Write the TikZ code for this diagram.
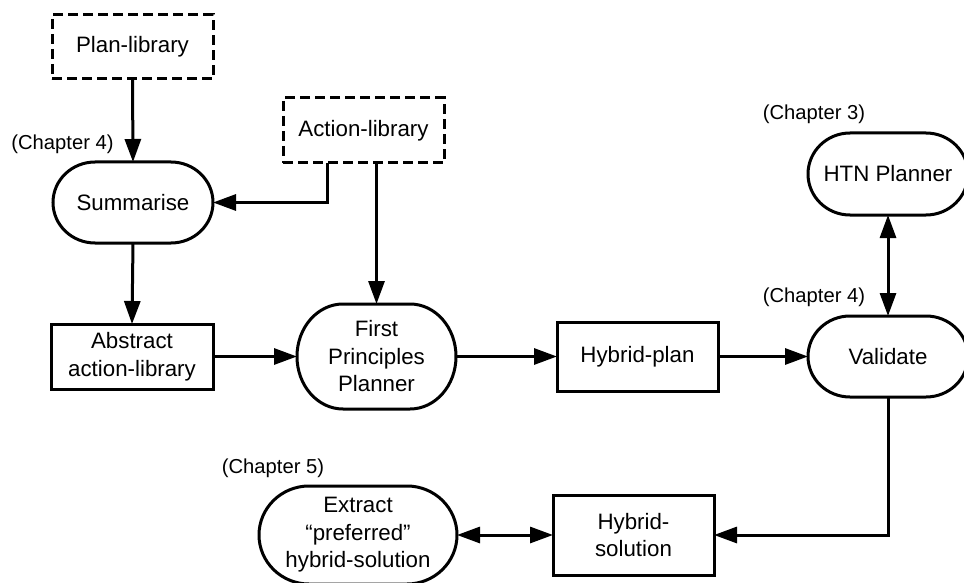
\documentclass[tikz,border=0pt]{standalone}
\usepackage{fontspec}
\setmainfont{Liberation Sans}
\usetikzlibrary{arrows.meta}

\tikzset{
  stroke/.style={line width=3pt},
  conn/.style={stroke, -{Triangle[length=23pt,width=16pt]}},
  biconn/.style={stroke, {Triangle[length=23pt,width=16pt]}-{Triangle[length=23pt,width=16pt]}},
  txt/.style={font=\fontsize{22.3}{27.5}\selectfont, align=center, inner sep=0pt, outer sep=0pt},
  box/.style={txt, rectangle, draw, stroke},
  dashbox/.style={box, dash pattern=on 10pt off 5pt},
  term/.style={txt, rectangle},
  chap/.style={font=\fontsize{20.2}{24}\selectfont, inner sep=0pt, outer sep=0pt},
}

% outline of a terminator (flat top and bottom, elliptic ends) around a node
\newcommand\termoutline[3]{%
  \draw[stroke] ([xshift=#2pt]#1.north west) -- ([xshift=-#2pt]#1.north east)
    arc[start angle=90, end angle=-90, x radius=#2pt, y radius=#3pt]
    -- ([xshift=#2pt]#1.south west)
    arc[start angle=270, end angle=90, x radius=#2pt, y radius=#3pt] -- cycle;}

\begin{document}
\begin{tikzpicture}[x=1pt, y=-1pt]
  \fill[white] (0,0) rectangle (964,583);
  \useasboundingbox (0,0) rectangle (964,583);

  % libraries
  \node[dashbox, minimum width=161pt, minimum height=64pt] (plan) at (132.5,47) {Plan-library};
  \node[dashbox, minimum width=161pt, minimum height=65pt] (action) at (363.5,130.5) {Action-library};

  % processes
  \node[term, minimum width=160pt, minimum height=81pt] (summ) at (133,202.5) {Summarise};
  \termoutline{summ}{42}{40.5}
  \node[term, minimum width=159pt, minimum height=105pt] (fpp) at (376.5,356.5) {First\\Principles\\Planner};
  \termoutline{fpp}{46}{52.5}
  \node[term, minimum width=160pt, minimum height=81pt] (valid) at (888,356.5) {Validate};
  \termoutline{valid}{42}{40.5}
  \node[term, minimum width=160pt, minimum height=82pt] (htn) at (888,174) {HTN Planner};
  \termoutline{htn}{42}{41}
  \node[term, minimum width=198pt, minimum height=98pt] (extract) at (358,535) {Extract\\“preferred”\\hybrid-solution};
  \termoutline{extract}{50}{49}

  % data
  \node[box, minimum width=162pt, minimum height=65pt] (abs) at (132,356.5) {Abstract\\action-library};
  \node[box, minimum width=161pt, minimum height=69pt] (hplan) at (637.5,356.5) {Hybrid-plan};
  \node[box, minimum width=161pt, minimum height=80pt] (hsol) at (633.5,535) {Hybrid-\\solution};

  % chapter notes
  \node[chap] (ch4a) at (62.5,144) {(Chapter 4)};
  \node[chap] (ch3) at (814,114) {(Chapter 3)};
  \node[chap] (ch4b) at (814,297) {(Chapter 4)};
  \node[chap] (ch5) at (273,468) {(Chapter 5)};

  % connectors
  \draw[conn] (plan.south) -- (summ.north);
  \draw[conn] ([xshift=-36.5pt]action.south) |- (summ.east);
  \draw[conn] (action.south -| fpp.north) -- (fpp.north);
  \draw[conn] (summ.south) -- (abs.north);
  \draw[conn] (abs.east) -- (fpp.west);
  \draw[conn] (fpp.east) -- (hplan.west);
  \draw[conn] (hplan.east) -- (valid.west);
  \draw[biconn] (htn.south) -- (valid.north);
  \draw[conn] (valid.south) |- (hsol.east);
  \draw[biconn] (extract.east) -- (hsol.west);
\end{tikzpicture}
\end{document}
